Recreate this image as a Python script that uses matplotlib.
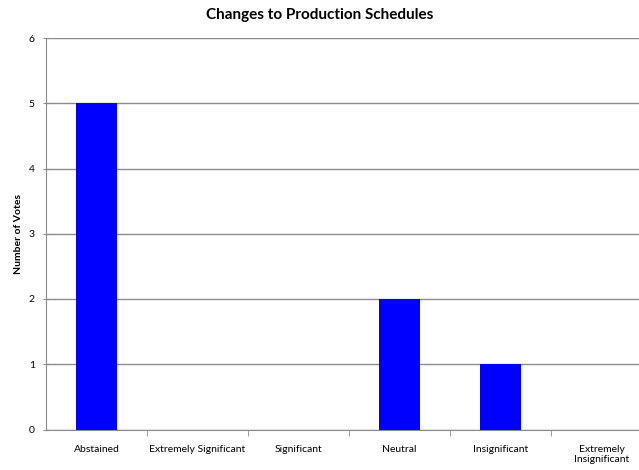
import matplotlib.pyplot as plt

# datos del grafico
categorias = ["Abstained", "Extremely Significant", "Significant", "Neutral",
              "Insignificant", "Extremely\nInsignificant"]
votos = [5, 0, 0, 2, 1, 0]

plt.rcParams['font.family'] = ['Lato', 'DejaVu Sans']

fig = plt.figure(figsize=(6.39, 4.70), dpi=100)
# el eje se sale un poco por la derecha, como en el original
ax = fig.add_axes([46 / 639, 40.5 / 470, 606 / 639, 391.5 / 470])

x = range(len(categorias))
ax.bar(x, votos, width=0.4, color='#0000FF', zorder=3)

ax.set_xlim(-0.5, len(categorias) - 0.5)
ax.set_ylim(0, 6)
ax.set_yticks(range(0, 7))
ax.yaxis.grid(True, color='#8c8c8c', linewidth=1, zorder=0)

ax.set_xticks(list(x))
ax.set_xticklabels(categorias, fontsize=7.5)
ax.tick_params(axis='x', length=0, pad=11)
ax.set_xticks([i + 0.5 for i in range(len(categorias) - 1)], minor=True)
ax.tick_params(axis='x', which='minor', length=4, direction='out', color='#8c8c8c')
ax.tick_params(axis='y', labelsize=7.5, length=4, direction='inout', color='#8c8c8c', pad=6)

for lado in ['top', 'right']:
    ax.spines[lado].set_visible(False)
for lado in ['left', 'bottom']:
    ax.spines[lado].set_color('#8c8c8c')

ax.set_ylabel('Number of Votes', fontsize=7.5, fontweight='bold', labelpad=4)
fig.text(320 / 639, 1 - 15 / 470, 'Changes to Production Schedules',
         ha='center', va='center', fontsize=11, fontweight='bold')

fig.savefig('out.png', dpi=100)
